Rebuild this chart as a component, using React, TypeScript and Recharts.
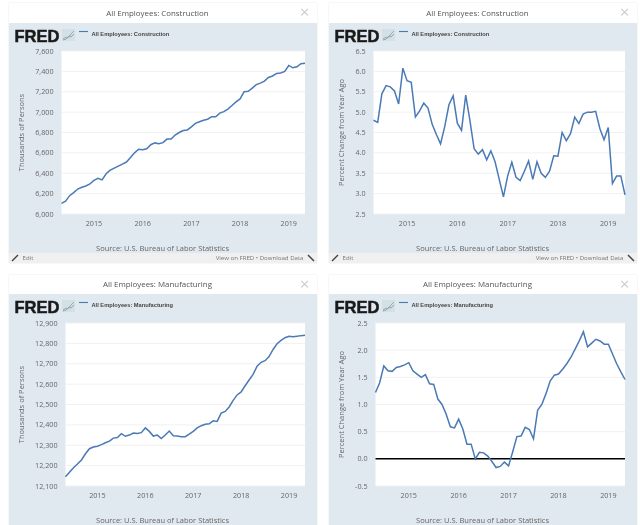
import { CartesianGrid, Legend, Line, LineChart, ReferenceLine, XAxis, YAxis } from 'recharts';

const yearPositions = [8, 20, 32, 44, 56];
const yearLabels = ['2015', '2016', '2017', '2018', '2019'];

const constructionLevel = [
  6105, 6125, 6180, 6210, 6245, 6262, 6275, 6295, 6330, 6350, 6335, 6395, 6430, 6450, 6470, 6490, 6510, 6555, 6600, 6635,
  6630, 6640, 6680, 6698, 6690, 6700, 6735, 6735, 6775, 6800, 6820, 6825, 6855, 6890, 6905, 6920, 6930, 6955, 6955, 6990,
  7005, 7030, 7065, 7100, 7130, 7200, 7205, 7235, 7270, 7285, 7305, 7340, 7355, 7380, 7385, 7400, 7458, 7435, 7445, 7475, 7480,
];
const constructionChange = [
  4.8, 4.75, 5.45, 5.65, 5.62, 5.52, 5.2, 6.08, 5.77, 5.73, 4.88, 5.03, 5.22, 5.1, 4.7, 4.45, 4.22, 4.65, 5.18, 5.4,
  4.73, 4.55, 5.42, 4.8, 4.1, 3.97, 4.08, 3.83, 4.05, 3.78, 3.35, 2.92, 3.43, 3.77, 3.4, 3.32, 3.55, 3.8, 3.35, 3.78,
  3.5, 3.4, 3.55, 3.93, 3.92, 4.5, 4.3, 4.47, 4.88, 4.72, 4.95, 5.0, 5.0, 5.02, 4.6, 4.32, 4.62, 3.25, 3.43, 3.43, 2.97,
];
const manufacturingLevel = [
  12145, 12168, 12190, 12208, 12228, 12258, 12283, 12291, 12295, 12303, 12312, 12320, 12335, 12338, 12357, 12344, 12350, 12360, 12358, 12362,
  12385, 12368, 12345, 12350, 12333, 12350, 12370, 12347, 12345, 12342, 12342, 12355, 12368, 12385, 12396, 12403, 12405, 12420, 12417, 12458,
  12466, 12488, 12520, 12547, 12562, 12592, 12620, 12648, 12688, 12707, 12715, 12735, 12770, 12798, 12815, 12828, 12835, 12832, 12835, 12838, 12840,
];
const manufacturingChange = [
  1.22, 1.4, 1.71, 1.62, 1.61, 1.68, 1.7, 1.73, 1.77, 1.62, 1.56, 1.5, 1.55, 1.38, 1.37, 1.1, 1.0, 0.82, 0.59, 0.57,
  0.73, 0.55, 0.27, 0.27, 0.0, 0.12, 0.11, 0.05, -0.05, -0.16, -0.14, -0.06, -0.13, 0.13, 0.41, 0.42, 0.58, 0.54, 0.37, 0.9,
  1.0, 1.2, 1.43, 1.54, 1.56, 1.65, 1.75, 1.87, 2.02, 2.17, 2.34, 2.06, 2.13, 2.2, 2.17, 2.11, 2.11, 1.93, 1.75, 1.6, 1.46,
];

const levelTicksC = [6000, 6200, 6400, 6600, 6800, 7000, 7200, 7400, 7600];
const changeTicksC = [2.5, 3, 3.5, 4, 4.5, 5, 5.5, 6, 6.5];
const levelTicksM = [12100, 12200, 12300, 12400, 12500, 12600, 12700, 12800, 12900];
const changeTicksM = [-0.5, 0, 0.5, 1, 1.5, 2, 2.5];

const font = '"Open Sans", sans-serif';
const PANEL_W = 308;

const fmtLevel = (v: number) => v.toLocaleString('en-US');
const fmtChange = (v: number) => v.toFixed(1);

interface PanelProps {
  left: number;
  top: number;
  headerH: number;
  chartH: number;
  title: string;
  unit: string;
  values: number[];
  ticks: number[];
  plotLeft: number;
  format: (v: number) => string;
  footer?: boolean;
  zeroLine?: boolean;
}

function Panel({ left, top, headerH, chartH, title, unit, values, ticks, plotLeft, format, footer, zeroLine }: PanelProps) {
  const rows = values.map((v, i) => ({ month: i, value: v }));
  return (
    <div style={{ position: 'absolute', left, top, width: PANEL_W, height: headerH + chartH + (footer ? 10 : 0), boxShadow: '0 0 1px #ccc', fontFamily: font }}>
      <div style={{ height: headerH, lineHeight: `${headerH}px`, textAlign: 'center', paddingRight: 10, fontSize: 7.9, color: '#555', background: '#fff' }}>
        {title}
      </div>
      <div style={{ position: 'absolute', right: 7, top: 0, lineHeight: `${headerH - 2}px`, fontSize: 17, color: '#ccc' }}>×</div>
      <div style={{ position: 'relative', width: PANEL_W, height: chartH, background: '#e1e9f0' }}>
        <LineChart width={PANEL_W} height={chartH} data={rows} margin={{ top: chartH - 39 - 163, right: 12, bottom: 0, left: 0 }}>
          <CartesianGrid vertical={false} stroke="#f1f1f1" fill="#ffffff" syncWithTicks />
          <XAxis
            dataKey="month"
            type="number"
            domain={[0, 60]}
            ticks={yearPositions}
            tickFormatter={(v: number) => yearLabels[yearPositions.indexOf(v)]}
            tickLine={false}
            axisLine={false}
            height={39}
            tickMargin={1}
            tick={{ fontSize: 7.2, fill: '#666', fontFamily: font }}
          />
          <YAxis
            type="number"
            width={plotLeft}
            domain={[ticks[0], ticks[ticks.length - 1]]}
            ticks={ticks}
            interval={0}
            tickFormatter={format}
            tickLine={false}
            axisLine={false}
            tickMargin={2}
            tick={{ fontSize: 7.2, fill: '#666', fontFamily: font }}
            label={{ value: unit, angle: -90, position: 'insideLeft', offset: 12, style: { fontSize: 7.5, fill: '#666', fontFamily: font, textAnchor: 'middle' } }}
          />
          {zeroLine && <ReferenceLine y={0} stroke="#000" strokeWidth={1.5} />}
          <Legend
            layout="horizontal"
            verticalAlign="middle"
            iconType="plainline"
            iconSize={9}
            formatter={() => <span style={{ color: '#444', fontSize: 5.7, fontWeight: 700, fontFamily: '"Liberation Sans", sans-serif' }}>{title}</span>}
            wrapperStyle={{ top: 1, left: 70, width: 'auto', height: 12, lineHeight: '12px' }}
          />
          <Line dataKey="value" name={title} type="linear" stroke="#4a7ab5" strokeWidth={1.5} dot={false} isAnimationActive={false} />
        </LineChart>
        <div style={{ position: 'absolute', left: 6, top: 2, fontFamily: '"Liberation Sans", sans-serif', fontWeight: 700, fontSize: 16.5, lineHeight: '22px', color: '#1a1a1a', WebkitTextStroke: '0.5px #1a1a1a' }}>
          FRED
        </div>
        <svg style={{ position: 'absolute', left: 53, top: 6 }} width={13} height={12}>
          <rect width={13} height={12} fill="#d5dfe6" />
          <polyline points="1,10 4,8 6,9 9,5 12,2" fill="none" stroke="#9ab58a" strokeWidth={1} />
          <polyline points="1,11 4,10 7,7 9,8 12,5" fill="none" stroke="#8aa6c8" strokeWidth={1} />
        </svg>
        <div style={{ position: 'absolute', left: 0, right: 0, top: chartH - 10, textAlign: 'center', fontSize: 7.5, lineHeight: '11px', color: '#666' }}>
          Source: U.S. Bureau of Labor Statistics
        </div>
      </div>
      {footer && (
        <div style={{ position: 'relative', height: 10, background: '#f0f0f0', fontSize: 6.1, lineHeight: '10px', color: '#777' }}>
          <svg style={{ position: 'absolute', left: 2, top: 1 }} width={8} height={8}>
            <line x1={1} y1={7} x2={7} y2={1} stroke="#444" strokeWidth={1.5} />
          </svg>
          <span style={{ position: 'absolute', left: 14 }}>Edit</span>
          <span style={{ position: 'absolute', right: 13 }}>View on FRED • Download Data</span>
          <svg style={{ position: 'absolute', right: 2, top: 1 }} width={8} height={8}>
            <line x1={1} y1={1} x2={7} y2={7} stroke="#444" strokeWidth={1.5} />
          </svg>
        </div>
      )}
    </div>
  );
}

export default function App() {
  return (
    <div style={{ position: 'absolute', left: 0, top: 0, width: 640, height: 525, overflow: 'hidden', background: '#fff', filter: 'blur(0.3px)' }}>
      <Panel left={8.5} top={3} headerH={20} chartH={230} footer title="All Employees: Construction" unit="Thousands of Persons" values={constructionLevel} ticks={levelTicksC} plotLeft={52.5} format={fmtLevel} />
      <Panel left={328.5} top={3} headerH={20} chartH={230} footer title="All Employees: Construction" unit="Percent Change from Year Ago" values={constructionChange} ticks={changeTicksC} plotLeft={44.5} format={fmtChange} />
      <Panel left={8.5} top={275} headerH={19} chartH={231} title="All Employees: Manufacturing" unit="Thousands of Persons" values={manufacturingLevel} ticks={levelTicksM} plotLeft={56.5} format={fmtLevel} />
      <Panel left={328.5} top={275} headerH={19} chartH={231} title="All Employees: Manufacturing" unit="Percent Change from Year Ago" values={manufacturingChange} ticks={changeTicksM} plotLeft={46.5} format={fmtChange} zeroLine />
    </div>
  );
}
